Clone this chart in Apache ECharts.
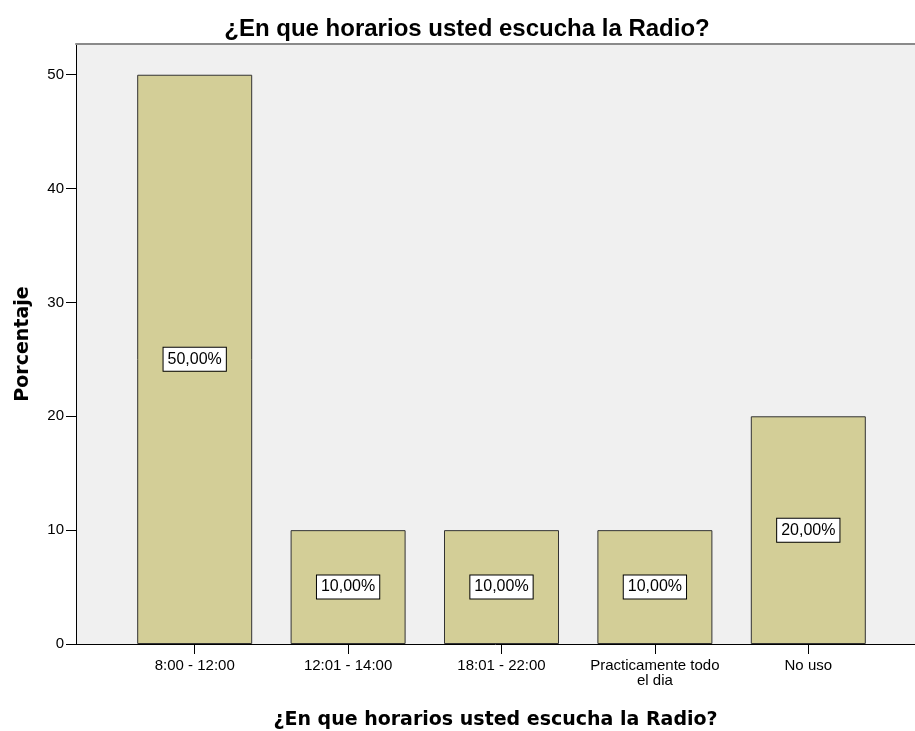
<!DOCTYPE html>
<html>
<head>
<meta charset="utf-8">
<script src="https://cdn.jsdelivr.net/npm/echarts@6/dist/echarts.min.js"></script>
<style>
  html, body { margin: 0; padding: 0; background: #fff; }
  #chart { width: 915px; height: 731px; }
</style>
</head>
<body>
<div id="chart"></div>
<script>
// datos del grafico
var categories = ['8:00 - 12:00', '12:01 - 14:00', '18:01 - 22:00', 'Practicamente todo\nel dia', 'No uso']
var percentages = [50, 10, 10, 10, 20]
var yTicks = [0, 10, 20, 30, 40, 50]

var chartTitle = '¿En que horarios usted escucha la Radio?'
var yMax = 52.7

var chart = echarts.init(document.getElementById('chart'))

var tickFont = 'Liberation Sans, Arial, sans-serif'
var nameFont = 'DejaVu Sans, Verdana, sans-serif'

chart.setOption({
  animation: false,
  title: {
    text: chartTitle,
    left: 462,
    top: 12,
    textAlign: 'center',
    textStyle: { fontFamily: tickFont, fontWeight: 'bold', fontSize: 24, color: '#000' }
  },
  grid: [
    // fondo y ejes
    { left: 76, right: 0, top: 44, bottom: 87, outerBoundsMode: 'none', show: true, backgroundColor: '#F0F0F0', borderWidth: 0 },
    // barras
    { left: 118, right: 30, top: 44, bottom: 87, outerBoundsMode: 'none' }
  ],
  xAxis: [
    {
      gridIndex: 0,
      type: 'value',
      min: 0,
      max: 1,
      name: chartTitle,
      nameLocation: 'middle',
      nameGap: 67,
      nameTextStyle: { fontFamily: nameFont, fontWeight: 'bold', fontSize: 19, color: '#000' },
      axisLine: { show: true, lineStyle: { color: '#000', width: 1 } },
      axisTick: { show: false },
      axisLabel: { show: false },
      splitLine: { show: false }
    },
    {
      gridIndex: 0,
      type: 'value',
      position: 'top',
      min: 0,
      max: 1,
      axisLine: { show: true, lineStyle: { color: '#8a8a8a', width: 2 } },
      axisTick: { show: false },
      axisLabel: { show: false },
      splitLine: { show: false }
    },
    {
      gridIndex: 1,
      type: 'category',
      data: categories,
      axisLine: { show: false },
      axisTick: { show: true, alignWithLabel: true, length: 10, lineStyle: { color: '#000' } },
      axisLabel: { interval: 0, margin: 14, fontFamily: tickFont, fontSize: 15, lineHeight: 15, color: '#000' }
    }
  ],
  yAxis: [
    {
      gridIndex: 0,
      type: 'value',
      min: 0,
      max: yMax,
      interval: 10,
      name: 'Porcentaje',
      nameLocation: 'middle',
      nameGap: 43,
      nameTextStyle: { fontFamily: nameFont, fontWeight: 'bold', fontSize: 19, color: '#000' },
      axisLine: { show: true, lineStyle: { color: '#000' } },
      axisTick: { show: true, length: 10, customValues: yTicks, lineStyle: { color: '#000' } },
      axisLabel: {
        margin: 12,
        customValues: yTicks,
        fontFamily: tickFont,
        fontSize: 15,
        color: '#000'
      },
      splitLine: { show: false }
    },
    {
      gridIndex: 1,
      type: 'value',
      min: 0,
      max: yMax,
      show: false
    }
  ],
  series: [{
    type: 'bar',
    xAxisIndex: 2,
    yAxisIndex: 1,
    data: percentages,
    barWidth: 115,
    itemStyle: { color: '#D3CE97', borderColor: '#333', borderWidth: 1 },
    label: {
      show: true,
      position: 'inside',
      formatter: function (p) { return p.value.toFixed(2).replace('.', ',') + '%' },
      fontFamily: tickFont,
      fontSize: 16,
      color: '#000',
      backgroundColor: '#fff',
      borderColor: '#000',
      borderWidth: 1,
      padding: [4, 4, 3, 4]
    }
  }]
})
</script>
</body>
</html>
